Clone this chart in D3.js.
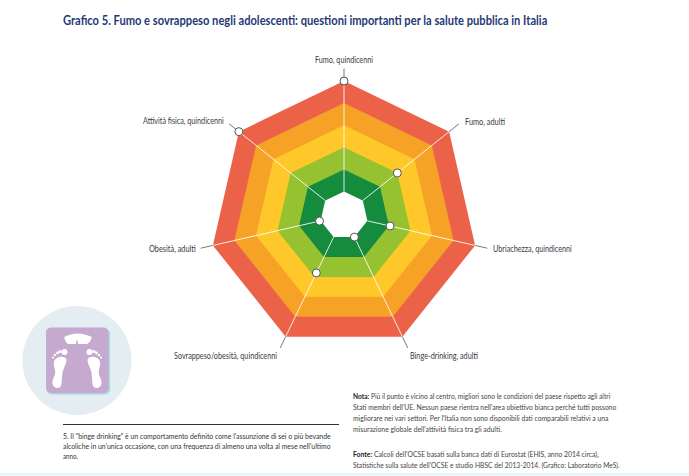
<!DOCTYPE html>
<html><head><meta charset="utf-8">
<script src="https://cdnjs.cloudflare.com/ajax/libs/d3/7.8.5/d3.min.js"></script>
<style>
html,body{margin:0;padding:0;background:#fff}
svg{display:block}
text{font-family:Lato,"Liberation Sans",sans-serif}
</style></head><body>
<svg id="c" width="689" height="476"></svg>
<script>
const titleText="Grafico 5. Fumo e sovrappeso negli adolescenti: questioni importanti per la salute pubblica in Italia";
const categories=["Fumo, quindicenni","Fumo, adulti","Ubriachezza, quindicenni","Binge-drinking, adulti","Sovrappeso/obesità, quindicenni","Obesità, adulti","Attività fisica, quindicenni"];
const values=[5,2,1.05,0,1.8,0.05,5];
const bandLevels=[5,4,3,2,1,0];
const bandColors=["#ec6249","#f6a226","#fec82a","#96c231","#158b3d","#ffffff"];
const noteLines=[["Nota:"," Più il punto è vicino al centro, migliori sono le condizioni del paese rispetto agli altri"],["","Stati membri dell'UE. Nessun paese rientra nell'area obiettivo bianca perché tutti possono"],["","migliorare nei vari settori. Per l'Italia non sono disponibili dati comparabili relativi a una"],["","misurazione globale dell'attività fisica tra gli adulti."]];
const sourceLines=[["Fonte:"," Calcoli dell'OCSE basati sulla banca dati di Eurostat (EHIS, anno 2014 circa),"],["","Statistiche sulla salute dell'OCSE e studio HBSC del 2013-2014. (Grafico: Laboratorio MeS)."]];
const footLines=["5. Il \"binge drinking\" è un comportamento definito come l'assunzione di sei o più bevande","alcoliche in un'unica occasione, con una frequenza di almeno una volta al mese nell'ultimo","anno."];

const svg=d3.select("#c");
// squeeze a text element horizontally to the width it has in the reference
function fit(sel,x,y,w,anchorMid){
  sel.attr("x",0).attr("y",0);
  const n=sel.node(),k=w/n.getComputedTextLength();
  sel.attr("transform",`translate(${x},${y}) scale(${k},1)`);
  if(anchorMid)sel.attr("text-anchor","middle");
}
const cx=344,cy=215.5;
const r=d3.scaleLinear().domain([0,5]).range([24,134.5]);
const ang=d3.scalePoint().domain(categories).range([0,2*Math.PI*6/7]);
const pt=(c,v)=>[cx+r(v)*Math.sin(ang(c)),cy-r(v)*Math.cos(ang(c))];
const line=d3.line().curve(d3.curveLinearClosed);

svg.append("rect").attr("x",0).attr("y",473).attr("width",689).attr("height",3).attr("fill","#eaf5f8");
fit(svg.append("text").attr("font-size",12.5).attr("font-weight",700).attr("fill","#1f3a75").text(titleText),63,25,485);

svg.selectAll("path.band").data(bandLevels).join("path").attr("class","band")
 .attr("d",l=>line(categories.map(c=>pt(c,l)))).attr("fill",(l,i)=>bandColors[i]);

svg.selectAll("line.spoke").data(categories).join("line").attr("class","spoke")
 .attr("x1",c=>pt(c,0)[0]).attr("y1",c=>pt(c,0)[1]).attr("x2",c=>pt(c,5)[0]).attr("y2",c=>pt(c,5)[1])
 .attr("stroke","#fff").attr("stroke-opacity",.85).attr("stroke-width",1);

const labelX=[315,465,493,410,174,149,143];
const labelY=[63,125,252,359,359,252,124];
const labelW=[58,40,79,68,103,47,81];
svg.selectAll("line.lead").data(categories).join("line").attr("class","lead")
 .attr("x1",c=>pt(c,5)[0]).attr("y1",c=>pt(c,5)[1])
 .attr("x2",c=>cx+(r(5)+12.5)*Math.sin(ang(c))).attr("y2",c=>cy-(r(5)+12.5)*Math.cos(ang(c)))
 .attr("stroke","#555").attr("stroke-width",.8);
categories.forEach((c,i)=>fit(svg.append("text").attr("class","lab").attr("font-size",9).attr("fill","#3a3a46").text(c),labelX[i],labelY[i],labelW[i]));

svg.selectAll("circle.pt").data(categories).join("circle").attr("class","pt")
 .attr("cx",(c,i)=>pt(c,values[i])[0]).attr("cy",(c,i)=>pt(c,values[i])[1])
 .attr("r",4).attr("fill","#fff").attr("stroke","#555").attr("stroke-width",1);

// scale icon
svg.append("circle").attr("cx",77).attr("cy",360.5).attr("r",54.5).attr("fill","#e3edf2");
svg.append("rect").attr("x",47).attr("y",329).attr("width",63).attr("height",65.5).attr("rx",5).attr("fill","#a8d8dc");
svg.append("rect").attr("x",46).attr("y",327.5).attr("width",62.5).attr("height",65.5).attr("rx",5).attr("fill","#c6a9cf");
svg.append("path").attr("d","M64.3 337 Q77 330 91.7 337 Q91 342 87 344 L78 344 L77.5 340 L76.5 340 L76 344 L68 344 Q65 342 64.3 337 Z").attr("fill","#fff");
const foot=(sx)=>{const g=svg.append("g").attr("transform",`translate(77,0) scale(${sx},1)`).attr("fill","#fff");
 g.append("path").attr("d","M10.5 360 C11 356 21 355 23 362 C24 366 21 369 22 374 C23 378 25 380 24.5 383 C24 389 16 390 15.5 384 C15 378 15 372 13 368 C12 365 10.5 363 10.5 360 Z");
 [[12.5,352,3],[17,351.5,1.6],[19.5,353,1.4],[22,355,1.2],[24,357.5,1.1]].forEach(d=>g.append("circle").attr("cx",d[0]).attr("cy",d[1]).attr("r",d[2]));};
foot(1);foot(-1);

// footnote
svg.append("line").attr("x1",63).attr("x2",339).attr("y1",424.5).attr("y2",424.5).attr("stroke","#333").attr("stroke-width",1);
const footW=[268,268,15];
footLines.forEach((d,i)=>fit(svg.append("text").attr("font-size",8).attr("fill","#333").text(d),63,438.5+i*10,footW[i]));

const block=(lines,y0,widths)=>lines.forEach((l,i)=>{const t=svg.append("text").attr("font-size",8).attr("fill","#444");
 t.append("tspan").attr("font-weight",700).attr("fill","#222").text(l[0]);t.append("tspan").text(l[1]);
 fit(t,353,y0+i*10.9,widths[i]);});
block(noteLines,399,[258,264,256,149]);block(sourceLines,456.8,[246,267]);
</script></body></html>
